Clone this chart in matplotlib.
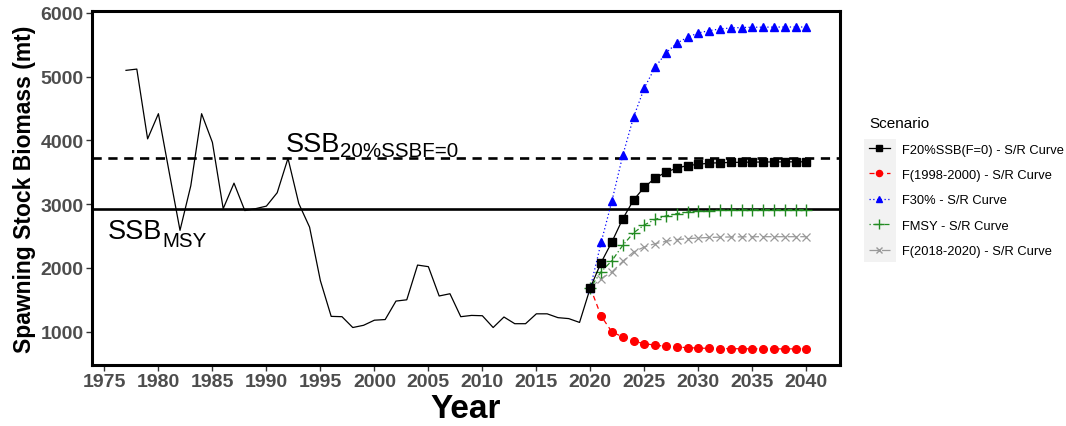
import matplotlib
matplotlib.use("Agg")
import matplotlib.pyplot as plt
from matplotlib.patches import Rectangle
from matplotlib.lines import Line2D
from matplotlib.transforms import offset_copy
from matplotlib import font_manager as fm

plt.rcParams['font.family'] = ['Liberation Sans', 'DejaVu Sans']

# ---------------- data ----------------
hist_years = list(range(1977, 2021))
hist_ssb = [5100, 5120, 4025, 4420, 3500, 2590, 3290, 4420, 3970, 2930,
            3330, 2900, 2930, 2970, 3180, 3720, 3010, 2640, 1800, 1240,
            1235, 1065, 1100, 1180, 1190, 1480, 1500, 2045, 2020, 1560,
            1595, 1235, 1255, 1250, 1065, 1230, 1125, 1125, 1280, 1280,
            1220, 1205, 1145, 1690]

proj_years = list(range(2020, 2041))
f20 = [1690, 2085, 2410, 2770, 3065, 3268, 3409, 3503, 3566, 3607,
       3625, 3645, 3650, 3655, 3658, 3660, 3662, 3663, 3664, 3665, 3665]
f20_err = [0, 0, 0, 0, 0, 0, 0, 0, 0, 0,
           0, 30, 30, 40, 40, 40, 40, 40, 40, 30, 30]
f9800 = [1690, 1245, 995, 918, 850, 813, 787, 771, 757, 750,
         742, 738, 735, 733, 732, 731, 730, 730, 730, 730, 730]
f30 = [1690, 2400, 3052, 3765, 4365, 4825, 5149, 5373, 5525, 5619,
       5687, 5723, 5749, 5765, 5772, 5776, 5778, 5779, 5780, 5780, 5780]
fmsy = [1690, 1940, 2115, 2354, 2550, 2675, 2761, 2816, 2852, 2877,
        2890, 2900, 2906, 2910, 2912, 2913, 2914, 2914, 2915, 2915, 2915]
f1820 = [1690, 1832, 1937, 2103, 2250, 2329, 2381, 2417, 2445, 2459,
         2470, 2478, 2483, 2486, 2488, 2489, 2490, 2490, 2490, 2490, 2490]

ssb20_ref = 3720
ssbmsy_ref = 2920

scen_labels = ["F20%SSB(F=0) - S/R Curve", "F(1998-2000) - S/R Curve",
               "F30% - S/R Curve", "FMSY - S/R Curve", "F(2018-2020) - S/R Curve"]
x_ticks = list(range(1975, 2041, 5))
y_ticks = [1000, 2000, 3000, 4000, 5000, 6000]

# narrow font for the x-axis title, if present
narrow = 'Liberation Sans'
try:
    fm.findfont(fm.FontProperties(family='Liberation Sans Narrow', weight='bold'),
                fallback_to_default=False)
    narrow = 'Liberation Sans Narrow'
except Exception:
    pass

# ---------------- figure ----------------
fig = plt.figure(figsize=(10.66, 4.27), dpi=100)
ax = fig.add_axes([0.0863, 0.143, 0.702, 0.829])

ax.axhline(ssb20_ref, color='black', lw=1.9, ls=(0, (3.5, 2.5)), zorder=1)
ax.axhline(ssbmsy_ref, color='black', lw=1.9, ls='-', zorder=1)

ax.plot(hist_years, hist_ssb, color='black', lw=0.9, zorder=2)

lw = 0.9
ms = 5.2
gray = '#999999'
ax.errorbar(proj_years, f20, yerr=f20_err, color='black', lw=lw, ls='-',
            marker='s', ms=ms, capsize=3, elinewidth=0.8, zorder=5)
ax.plot(proj_years, f9800, color='red', lw=lw, ls=(0, (4, 3)),
        marker='o', ms=ms + 0.3, zorder=4)
ax.plot(proj_years, f30, color='blue', lw=lw, ls=(0, (1, 2)),
        marker='^', ms=ms + 0.6, zorder=4)
ax.plot(proj_years, fmsy, color='#228B22', lw=lw, ls=(0, (1, 2, 4, 2)),
        marker='+', ms=ms + 3, mew=1.0, zorder=4)
ax.plot(proj_years, f1820, color=gray, lw=lw, ls=(0, (7, 3)),
        marker='x', ms=ms + 1, mew=0.9, zorder=3)

ax.set_xlim(1973.85, 2043.15)
ax.set_ylim(478, 6032)
ax.set_xticks(x_ticks)
ax.set_yticks(y_ticks)
ax.tick_params(axis='both', direction='out', length=4, width=1.0,
               color='#333333', labelsize=14, labelcolor='#4D4D4D', pad=2)
for lab in ax.get_xticklabels() + ax.get_yticklabels():
    lab.set_fontweight('bold')
for sp in ax.spines.values():
    sp.set_linewidth(2.2)
    sp.set_color('black')

ax.set_xlabel('Year', fontsize=24, fontweight='bold', family=narrow, labelpad=2)
ax.set_ylabel('Spawning Stock Biomass (mt)', fontsize=16.5, fontweight='bold',
              labelpad=3)

# reference line labels with subscripts
t1 = ax.text(1991.83, 3834, 'SSB', fontsize=19.5, ha='left', va='baseline')
t2 = ax.text(1975.31, 2472, 'SSB', fontsize=19.5, ha='left', va='baseline')

handles = [Line2D([], [], color='black', lw=lw, marker='s', ms=ms - 0.8),
           Line2D([], [], color='red', lw=lw, ls=(0, (4, 3)), marker='o', ms=ms - 0.8),
           Line2D([], [], color='blue', lw=lw, ls=(0, (1, 2)), marker='^', ms=ms - 0.6),
           Line2D([], [], color='#228B22', lw=lw, ls=(0, (1, 2, 4, 2)), marker='+', ms=ms + 1.5),
           Line2D([], [], color=gray, lw=lw, ls=(0, (7, 3)), marker='x', ms=ms - 0.5)]
leg = fig.legend(handles, scen_labels, title='Scenario', loc='upper left',
                 bbox_to_anchor=(0.8105, 0.738), frameon=False, fontsize=9.3,
                 title_fontsize=11, handlelength=1.6, handletextpad=0.95,
                 labelspacing=1.04, borderaxespad=0)
leg._legend_box.align = 'left'

fig.canvas.draw()
r = fig.canvas.get_renderer()

w1 = t1.get_window_extent(r).width
w2 = t2.get_window_extent(r).width
ax.text(1991.83, 3834, '20%SSBF=0', fontsize=14.8, ha='left', va='baseline',
        transform=offset_copy(ax.transData, fig=fig, x=w1, y=-5, units='dots'))
ax.text(1975.31, 2472, 'MSY', fontsize=14.8, ha='left', va='baseline',
        transform=offset_copy(ax.transData, fig=fig, x=w2, y=-8, units='dots'))

bbs = [h.get_window_extent(r) for h in leg.legend_handles]
x0 = min(b.x0 for b in bbs) - 1
x1 = max(b.x1 for b in bbs) + 2
tb = [t.get_window_extent(r) for t in leg.get_texts()]
y0 = min(b.y0 for b in tb) - 5
y1 = max(b.y1 for b in tb) + 5
fig.patches.append(Rectangle((x0, y0), x1 - x0, y1 - y0, transform=None,
                             facecolor='#F2F2F2', edgecolor='none', zorder=0))

fig.savefig('out.png', dpi=100)
